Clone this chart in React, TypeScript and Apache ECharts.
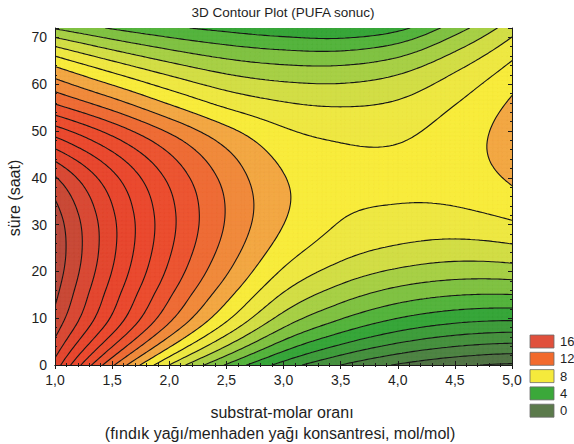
import { useEffect, useRef } from 'react';
import * as echarts from 'echarts';

// Grid nodes of the fitted response surface
const molarRatios = [1.0, 1.5, 2.0, 2.5, 3.0, 3.5, 4.0, 4.5, 5.0];
const reactionHours = [0, 8, 16, 24, 32, 40, 48, 56, 64, 72];

// PUFA result along the molar-ratio axis, one row per reaction time (h)
const pufaAt0h = [17.6, 12.2, 8.0, 4.9, 2.6, 1.0, -0.1, -0.8, -1.15];
const pufaAt8h = [19.4, 15.4, 11.7, 8.6, 6.0, 4.4, 3.3, 2.65, 2.41];
const pufaAt16h = [20.3, 16.6, 13.3, 10.5, 8.1, 6.7, 5.8, 5.35, 5.31];
const pufaAt24h = [20.7, 17.2, 14.1, 11.55, 9.45, 8.3, 7.7, 7.42, 7.57];
const pufaAt32h = [20.4, 17.15, 14.3, 11.95, 10.1, 9.08, 8.8, 8.78, 9.18];
const pufaAt40h = [19.1, 16.3, 13.8, 11.7, 10.05, 9.4, 9.22, 9.45, 10.15];
const pufaAt48h = [16.3, 14.3, 12.4, 10.7, 9.4, 8.95, 8.95, 9.5, 10.47];
const pufaAt56h = [12.9, 11.4, 9.9, 8.7, 8.05, 7.85, 8.1, 8.95, 10.14];
const pufaAt64h = [9.9, 8.4, 7.25, 6.45, 6.05, 6.0, 6.5, 7.7, 9.17];
const pufaAt72h = [5.9, 4.9, 4.2, 3.7, 3.3, 3.1, 3.7, 5.5, 7.55];

const pufaRows = [
  pufaAt0h, pufaAt8h, pufaAt16h, pufaAt24h, pufaAt32h,
  pufaAt40h, pufaAt48h, pufaAt56h, pufaAt64h, pufaAt72h,
];

// Contour levels and the fill of each band (below first level ... above last level)
const contourLevels = [-1, 0, 1, 2, 3, 4, 5, 6, 7, 8, 9, 10, 11, 12, 13, 14, 15, 16, 17, 18, 19, 20];
const bandColors = [
  '#4d6843', '#537546', '#4f8444', '#47913f', '#3f9d3c', '#38a63a',
  '#55b43e', '#80c243', '#a8d046', '#d2de46', '#eee843', '#f8ec3c',
  '#f3a844', '#f08a3c', '#ee6c36', '#ec5632', '#eb4e30', '#ea4a30',
  '#e8482f', '#e34831', '#d84a35', '#c94a38', '#b84a3c',
];

// Legend entries
const legendLevels = [16, 12, 8, 4, 0];
const legendColors = ['#e0503c', '#f26a2c', '#f5ea3c', '#3ba83a', '#5b7a4b'];

const xTitle = 'substrat-molar oranı';
const xSubTitle = '(fındık yağı/menhaden yağı konsantresi, mol/mol)';
const yTitle = 'süre (saat)';
const chartTitle = '3D Contour Plot (PUFA sonuc)';

const FONT = "'Liberation Sans', Arial, Helvetica, sans-serif";

// ---- surface sampling (Catmull-Rom through the grid nodes) ----
function catmull(p0: number, p1: number, p2: number, p3: number, t: number) {
  return 0.5 * (2 * p1 + (-p0 + p2) * t + (2 * p0 - 5 * p1 + 4 * p2 - p3) * t * t + (-p0 + 3 * p1 - 3 * p2 + p3) * t * t * t);
}
function sample1D(arr: number[], s: number) {
  const n = arr.length;
  let i = Math.floor(s);
  if (i < 0) i = 0;
  if (i > n - 2) i = n - 2;
  const t = s - i;
  const get = (k: number) =>
    k < 0 ? 3 * arr[0] - 3 * arr[1] + arr[2] : k > n - 1 ? 3 * arr[n - 1] - 3 * arr[n - 2] + arr[n - 3] : arr[k];
  return catmull(get(i - 1), get(i), get(i + 1), get(i + 2), t);
}
function surface(x: number, y: number) {
  const sx = (x - molarRatios[0]) / (molarRatios[1] - molarRatios[0]);
  const sy = (y - reactionHours[0]) / (reactionHours[1] - reactionHours[0]);
  const column = pufaRows.map((row) => sample1D(row, sx));
  return sample1D(column, sy);
}

type P = [number, number, number];

function clipPoly(poly: P[], level: number, keepAbove: boolean): P[] {
  const out: P[] = [];
  const inside = (p: P) => (keepAbove ? p[2] >= level : p[2] <= level);
  for (let i = 0; i < poly.length; i++) {
    const a = poly[i];
    const b = poly[(i + 1) % poly.length];
    const ia = inside(a);
    const ib = inside(b);
    if (ia) out.push(a);
    if (ia !== ib) {
      const t = (level - a[2]) / (b[2] - a[2]);
      out.push([a[0] + t * (b[0] - a[0]), a[1] + t * (b[1] - a[1]), level]);
    }
  }
  return out;
}

function buildGeometry() {
  const NX = 96;
  const NY = 84;
  const xa = molarRatios[0];
  const xb = molarRatios[molarRatios.length - 1];
  const ya = reactionHours[0];
  const yb = reactionHours[reactionHours.length - 1];
  const pts: P[][] = [];
  for (let j = 0; j <= NY; j++) {
    const row: P[] = [];
    const y = ya + ((yb - ya) * j) / NY;
    for (let i = 0; i <= NX; i++) {
      const x = xa + ((xb - xa) * i) / NX;
      row.push([x, y, surface(x, y)]);
    }
    pts.push(row);
  }
  const nBands = contourLevels.length + 1;
  const bands: number[][][] = Array.from({ length: nBands }, () => []);
  const segments: number[][] = [];
  const tris: P[][] = [];
  for (let j = 0; j < NY; j++) {
    for (let i = 0; i < NX; i++) {
      const a = pts[j][i];
      const b = pts[j][i + 1];
      const c = pts[j + 1][i + 1];
      const d = pts[j + 1][i];
      tris.push([a, b, c], [a, c, d]);
    }
  }
  for (const tri of tris) {
    const zmin = Math.min(tri[0][2], tri[1][2], tri[2][2]);
    const zmax = Math.max(tri[0][2], tri[1][2], tri[2][2]);
    for (let k = 0; k < nBands; k++) {
      const lo = k === 0 ? -Infinity : contourLevels[k - 1];
      const hi = k === nBands - 1 ? Infinity : contourLevels[k];
      if (zmax < lo || zmin > hi) continue;
      let poly: P[] = tri;
      if (zmin < lo) poly = clipPoly(poly, lo, true);
      if (poly.length >= 3 && zmax > hi) poly = clipPoly(poly, hi, false);
      if (poly.length >= 3) {
        const flat: number[] = [];
        for (const p of poly) flat.push(p[0], p[1]);
        bands[k].push(flat);
      }
    }
    for (const L of contourLevels) {
      if (zmin >= L || zmax < L) continue;
      const cross: number[] = [];
      for (let e = 0; e < 3; e++) {
        const p = tri[e];
        const q = tri[(e + 1) % 3];
        if (p[2] < L !== q[2] < L) {
          const t = (L - p[2]) / (q[2] - p[2]);
          cross.push(p[0] + t * (q[0] - p[0]), p[1] + t * (q[1] - p[1]));
        }
      }
      if (cross.length === 4) segments.push(cross);
    }
  }
  return { bands, segments };
}

const geometry = buildGeometry();

function renderItem(params: any, api: any) {
  const idx = api.value(2) as number;
  const toPx = (x: number, y: number) => {
    const p = api.coord([x, y]);
    return p[0].toFixed(2) + ' ' + p[1].toFixed(2);
  };
  const parts: string[] = [];
  if (idx < geometry.bands.length) {
    for (const poly of geometry.bands[idx]) {
      let s = 'M' + toPx(poly[0], poly[1]);
      for (let m = 2; m < poly.length; m += 2) s += 'L' + toPx(poly[m], poly[m + 1]);
      parts.push(s + 'Z');
    }
    return {
      type: 'path',
      shape: { pathData: parts.join('') },
      style: { fill: bandColors[idx], stroke: bandColors[idx], lineWidth: 0.3 },
      silent: true,
    };
  }
  for (const sg of geometry.segments) {
    parts.push('M' + toPx(sg[0], sg[1]) + 'L' + toPx(sg[2], sg[3]));
  }
  return {
    type: 'path',
    shape: { pathData: parts.join('') },
    style: { fill: 'none', stroke: '#161616', lineWidth: 1.1, lineCap: 'round', lineJoin: 'round' },
    silent: true,
  };
}

const GRID = { left: 55, right: 62, top: 28, bottom: 79 };

function buildOption(): any {
  const items = [];
  for (let k = 0; k <= geometry.bands.length; k++) items.push([3, 36, k]);

  const axisLine = { show: true, lineStyle: { color: '#1a1a1a', width: 1 } };
  const xLabel = {
    fontSize: 14,
    color: '#1e1e1e',
    fontFamily: FONT,
    margin: 8,
    formatter: (v: number) => v.toFixed(1).replace('.', ','),
  };
  const legendGraphics: any[] = [];
  legendLevels.forEach((lv, i) => {
    const top = 335 + i * 17.3;
    legendGraphics.push({
      type: 'rect',
      shape: { x: 530, y: top, width: 24, height: 13 },
      style: { fill: legendColors[i], stroke: '#6a6a6a', lineWidth: 0.8 },
    });
    legendGraphics.push({
      type: 'text',
      x: 560,
      y: top + 6.5,
      style: { text: String(lv), fontSize: 13, fontFamily: FONT, fill: '#1e1e1e', align: 'left', verticalAlign: 'middle' },
    });
  });

  const tick = { show: true, inside: true, length: 4, lineStyle: { color: '#1a1a1a' } };
  const minor = { show: true, splitNumber: 5, length: 2, lineStyle: { color: '#1a1a1a' } };

  return {
    animation: false,
    backgroundColor: '#ffffff',
    grid: { ...GRID, show: false },
    xAxis: [
      {
        type: 'value', min: 1, max: 5, interval: 0.5, position: 'bottom', z: 5,
        axisLine, axisTick: tick, minorTick: minor, splitLine: { show: false }, axisLabel: xLabel,
      },
      {
        type: 'value', min: 1, max: 5, interval: 0.5, position: 'top', z: 5,
        axisLine, axisTick: tick, minorTick: minor, splitLine: { show: false }, axisLabel: { show: false },
      },
    ],
    yAxis: [
      {
        type: 'value', min: 0, max: 72, interval: 10, position: 'left', z: 5,
        axisLine, axisTick: tick, minorTick: minor, splitLine: { show: false },
        axisLabel: { fontSize: 14, color: '#1e1e1e', fontFamily: FONT, margin: 8, showMaxLabel: false },
      },
      {
        type: 'value', min: 0, max: 72, interval: 10, position: 'right', z: 5,
        axisLine, axisTick: tick, minorTick: minor, splitLine: { show: false }, axisLabel: { show: false },
      },
    ],
    series: [
      {
        type: 'custom',
        coordinateSystem: 'cartesian2d',
        xAxisIndex: 0,
        yAxisIndex: 0,
        renderItem,
        data: items,
        clip: true,
        silent: true,
        z: 1,
      },
    ],
    graphic: [
      {
        type: 'text', x: 283, y: 12,
        style: { text: chartTitle, fontSize: 13.5, fontFamily: FONT, fill: '#1e1e1e', align: 'center', verticalAlign: 'middle' },
      },
      {
        type: 'text', x: 282, y: 412,
        style: { text: xTitle, fontSize: 16, fontFamily: FONT, fill: '#1e1e1e', align: 'center', verticalAlign: 'middle' },
      },
      {
        type: 'text', x: 280, y: 433,
        style: { text: xSubTitle, fontSize: 16, fontFamily: FONT, fill: '#1e1e1e', align: 'center', verticalAlign: 'middle' },
      },
      {
        type: 'text', x: 14, y: 198, rotation: Math.PI / 2,
        style: { text: yTitle, fontSize: 16, fontFamily: FONT, fill: '#1e1e1e', align: 'center', verticalAlign: 'middle' },
      },
      ...legendGraphics,
    ],
  };
}

export default function App() {
  const ref = useRef<HTMLDivElement>(null);
  useEffect(() => {
    if (!ref.current) return;
    const chart = echarts.init(ref.current, undefined, { renderer: 'svg' });
    chart.setOption(buildOption());
    return () => chart.dispose();
  }, []);
  return (
    <div
      ref={ref}
      style={{ position: 'absolute', left: 0, top: 0, width: 574, height: 444, background: '#ffffff' }}
    />
  );
}
